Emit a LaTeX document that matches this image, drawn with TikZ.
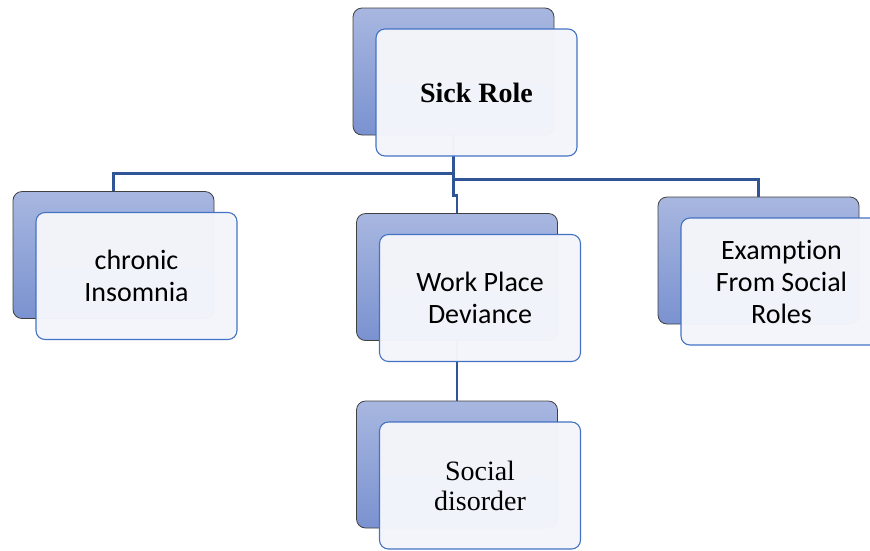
\documentclass[tikz,border=0pt]{standalone}
\usepackage{fontspec}
\setmainfont{Liberation Serif}
\newfontfamily\calibri[Ligatures=NoCommon]{Carlito}
\usetikzlibrary{positioning}
\definecolor{backtop}{RGB}{168,183,224}
\definecolor{backbottom}{RGB}{122,146,208}
\definecolor{backline}{RGB}{64,64,64}
\definecolor{frontfill}{RGB}{243,245,250}
\definecolor{frontline}{RGB}{68,114,196}
\definecolor{linkblue}{RGB}{47,85,151}
\begin{document}
\begin{tikzpicture}[
    x=1pt, y=-1pt,
    backbox/.style={draw=backline, line width=0.8pt, rounded corners=9pt, top color=backtop, bottom color=backbottom, minimum width=201pt, minimum height=127pt, inner sep=0pt},
    frontbox/.style={draw=frontline, line width=1.1pt, rounded corners=9pt, fill=frontfill, fill opacity=0.98, text opacity=1, minimum width=201pt, minimum height=127pt, align=center, inner sep=0pt},
    sanslabel/.style={font=\calibri\fontsize{28}{32}\selectfont},
    seriflabel/.style={font=\fontsize{28}{30}\selectfont},
    link/.style={draw=linkblue, line width=2.6pt}
]
\useasboundingbox (0,0) rectangle (870,550);
\clip (0,0) rectangle (870,550);
% back boxes
\node[backbox] (sickback) at (453.5,71.5) {};
\node[backbox] (insomniaback) at (113.5,255) {};
\node[backbox] (devianceback) at (457,277) {};
\node[backbox] (examptionback) at (758.5,260.5) {};
\node[backbox] (disorderback) at (457,464.5) {};
% connectors
\draw[link] (sickback.south) -- ([yshift=-38pt]sickback.south) -| (insomniaback.north);
\draw[link] (sickback.south) -- ([yshift=-44pt]sickback.south) -| (examptionback.north);
\draw[link] (sickback.south) -- ([yshift=-60pt]sickback.south) -| (devianceback.north);
\draw[link] (devianceback.south) -- (disorderback.north);
% front boxes
\node[frontbox, seriflabel] (sick) at ([xshift=23pt,yshift=-21pt]sickback.center) {\textbf{Sick Role}};
\node[frontbox, sanslabel] (insomnia) at ([xshift=23pt,yshift=-21pt]insomniaback.center) {chronic\\Insomnia};
\node[frontbox, sanslabel] (deviance) at ([xshift=23pt,yshift=-21pt]devianceback.center) {Work Place\\Deviance};
\node[frontbox, sanslabel] (examption) at ([xshift=23pt,yshift=-21pt]examptionback.center) {Examption\\From Social\\Roles};
\node[frontbox, seriflabel] (disorder) at ([xshift=23pt,yshift=-21pt]disorderback.center) {Social\\disorder};
\end{tikzpicture}
\end{document}
